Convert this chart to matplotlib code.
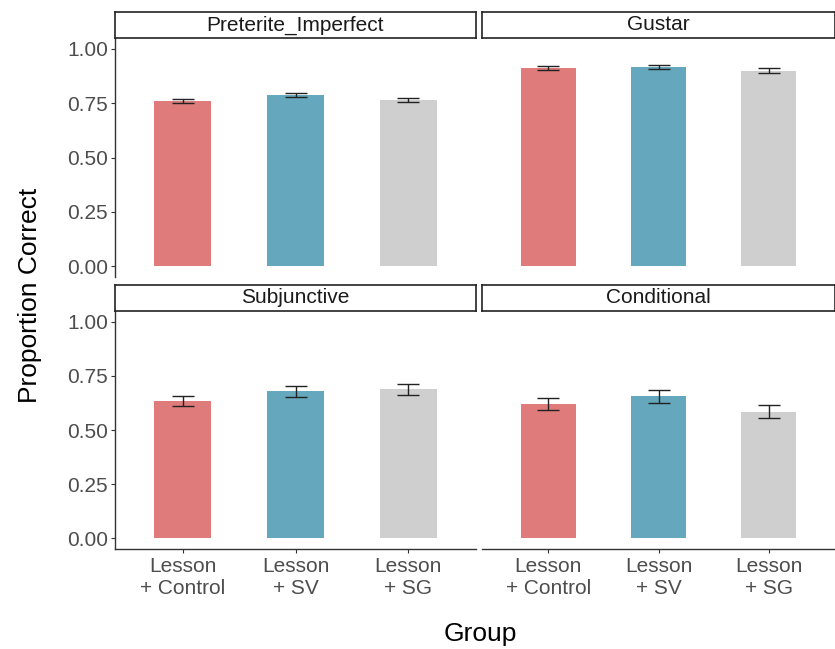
import matplotlib.pyplot as plt
import numpy as np

plt.rcParams['font.family'] = ['Liberation Sans', 'DejaVu Sans']

groups = ['Lesson\n+ Control', 'Lesson\n+ SV', 'Lesson\n+ SG']
colors = ['#E07B7B', '#65A7BC', '#CFCFCF']

panels = ['Preterite_Imperfect', 'Gustar', 'Subjunctive', 'Conditional']
means = {
    'Preterite_Imperfect': [0.760, 0.789, 0.764],
    'Gustar': [0.912, 0.915, 0.900],
    'Subjunctive': [0.633, 0.679, 0.688],
    'Conditional': [0.622, 0.656, 0.585],
}
errs = {
    'Preterite_Imperfect': [0.009, 0.009, 0.010],
    'Gustar': [0.009, 0.009, 0.010],
    'Subjunctive': [0.024, 0.025, 0.025],
    'Conditional': [0.028, 0.031, 0.030],
}
yticks = [0.0, 0.25, 0.5, 0.75, 1.0]

W, H = 835, 649
fig = plt.figure(figsize=(W / 100, H / 100), dpi=100)

# panel boxes in pixels: left, right, top, bottom
cols = [(115, 476), (482, 835)]
rows = [(38, 277), (311, 549)]
strip_h = 26

x = np.arange(len(groups))
for i, name in enumerate(panels):
    r, c = divmod(i, 2)
    x0, x1 = cols[c]
    t, b = rows[r]
    ax = fig.add_axes([x0 / W, 1 - b / H, (x1 - x0) / W, (b - t) / H])
    ax.bar(x, means[name], width=0.5, color=colors)
    ax.errorbar(x, means[name], yerr=errs[name], fmt='none', ecolor='#222222',
                elinewidth=1.0, capsize=8, capthick=1.0)
    ax.set_xlim(-0.6, 2.6)
    ax.set_ylim(-0.05, 1.05)
    for s in ['top', 'right']:
        ax.spines[s].set_visible(False)
    ax.spines['left'].set_visible(c == 0)
    ax.spines['bottom'].set_visible(r == 1)
    for s in ['left', 'bottom']:
        ax.spines[s].set_linewidth(1.0)
        ax.spines[s].set_color('#333333')
    ax.set_yticks(yticks)
    ax.set_yticklabels(['%.2f' % v for v in yticks] if c == 0 else [])
    ax.tick_params(axis='y', left=(c == 0), length=3, colors='#333333',
                   labelcolor='#4d4d4d', labelsize=15, pad=2)
    ax.set_xticks(x)
    ax.set_xticklabels(groups if r == 1 else [])
    ax.tick_params(axis='x', bottom=(r == 1), length=3, colors='#333333',
                   labelcolor='#4d4d4d', labelsize=15, pad=3)

    # facet strip
    sax = fig.add_axes([x0 / W, 1 - t / H, (x1 - x0) / W, strip_h / H])
    sax.set_xticks([])
    sax.set_yticks([])
    for s in sax.spines.values():
        s.set_linewidth(1.2)
        s.set_color('#222222')
    sax.text(0.5, 0.5, name, ha='center', va='center', fontsize=15,
             color='#1a1a1a', transform=sax.transAxes)

fig.text(30 / W, 1 - 295 / H, 'Proportion Correct', rotation=90,
         ha='center', va='center', fontsize=19)
fig.text(480 / W, 1 - 634 / H, 'Group', ha='center', va='center', fontsize=19)

fig.savefig('out.png', dpi=100)
